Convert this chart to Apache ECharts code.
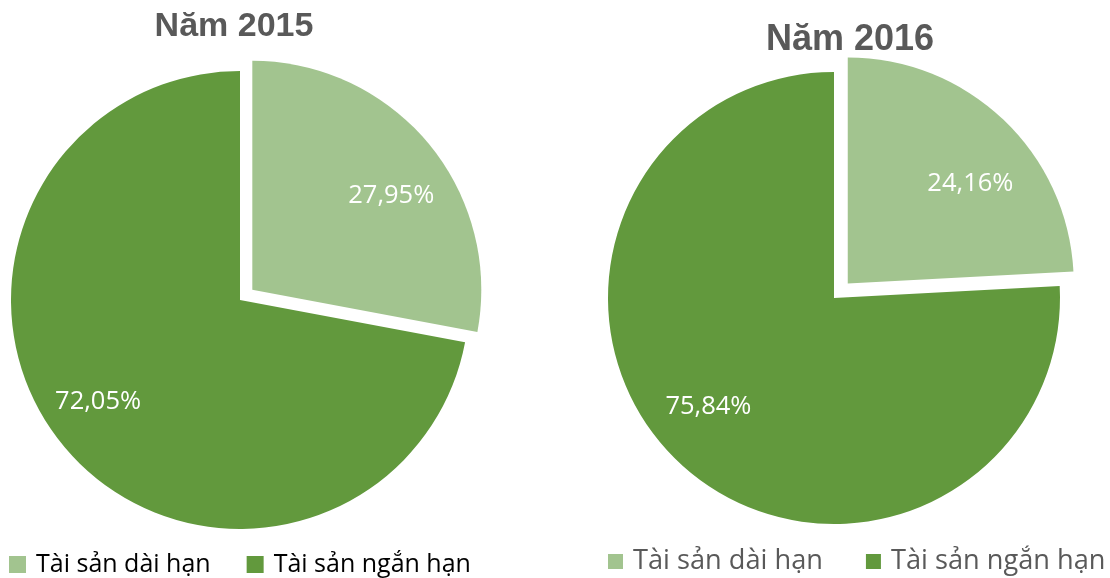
<!DOCTYPE html>
<html>
<head>
<meta charset="utf-8">
<script src="https://cdn.jsdelivr.net/npm/echarts@6/dist/echarts.min.js"></script>
<style>
  html, body { margin: 0; padding: 0; background: #fff; }
  #chart { width: 1110px; height: 578px; }
</style>
</head>
<body>
<div id="chart"></div>
<script>
// dữ liệu cơ cấu tài sản
var categories = ['Tài sản dài hạn', 'Tài sản ngắn hạn'];
var values2015 = [27.95, 72.05];
var values2016 = [24.16, 75.84];
var titles = ['Năm 2015', 'Năm 2016'];
var colors = ['#A2C48F', '#62993D'];
// dịch nhãn một chút cho giống Excel
var labelShift2015 = [[8, 15], [-11, -7]];
var labelShift2016 = [[7, 22], [-10, -13]];

function pieData(vals, shifts) {
  return categories.map(function (name, i) {
    var d = { name: name, value: vals[i], selected: i === 0 };
    if (shifts) {
      d.label = { offset: shifts[i] };
      d.select = { label: { offset: shifts[i] } };
    }
    return d;
  });
}

function fmt(p) {
  return p.value.toFixed(2).replace('.', ',') + '%';
}

var myChart = echarts.init(document.getElementById('chart'));

var pieBase = {
  type: 'pie',
  startAngle: 90,
  clockwise: true,
  selectedMode: true,
  silent: true,
  label: { show: false },
  labelLine: { show: false },
  emphasis: { disabled: true }
};

// vòng "ma" chỉ để đặt nhãn xa tâm hơn
function ghost(vals, shifts, center, r, offset) {
  return Object.assign({}, pieBase, {
    center: center,
    radius: [0, r * 1.46],
    selectedOffset: offset,
    data: pieData(vals, shifts),
    itemStyle: { color: 'rgba(0,0,0,0)' },
    label: {
      show: true,
      position: 'inside',
      formatter: fmt,
      color: '#fff',
      fontFamily: 'Open Sans',
      fontSize: 25.5
    }
  });
}

myChart.setOption({
  color: colors,
  title: [
    {
      text: titles[0], left: 229, top: 5, textAlign: 'center',
      textStyle: { fontFamily: 'Liberation Sans', fontWeight: 'bold', fontSize: 34, color: '#595959' }
    },
    {
      text: titles[1], left: 845, top: 17, textAlign: 'center',
      textStyle: { fontFamily: 'Liberation Sans', fontWeight: 'bold', fontSize: 36, color: '#595959' }
    }
  ],
  legend: [
    {
      data: categories, left: 9, top: 552, icon: 'rect', padding: 0,
      itemWidth: 17, itemHeight: 17, itemGap: 36,
      textStyle: { fontFamily: 'Open Sans', fontSize: 25, color: '#000', padding: [0, 0, 0, 5] }
    },
    {
      data: categories, left: 608, top: 548, icon: 'rect', padding: 0,
      itemWidth: 15, itemHeight: 15, itemGap: 43,
      textStyle: { fontFamily: 'Open Sans', fontSize: 27.2, color: '#595959', padding: [0, 0, 0, 5] }
    }
  ],
  series: [
    Object.assign({}, pieBase, {
      center: [240, 300], radius: [0, 229], selectedOffset: 16, data: pieData(values2015)
    }),
    Object.assign({}, pieBase, {
      center: [834, 298], radius: [0, 226], selectedOffset: 20, data: pieData(values2016)
    }),
    ghost(values2015, labelShift2015, [240, 300], 229, 16),
    ghost(values2016, labelShift2016, [834, 298], 226, 20)
  ]
});
</script>
</body>
</html>
